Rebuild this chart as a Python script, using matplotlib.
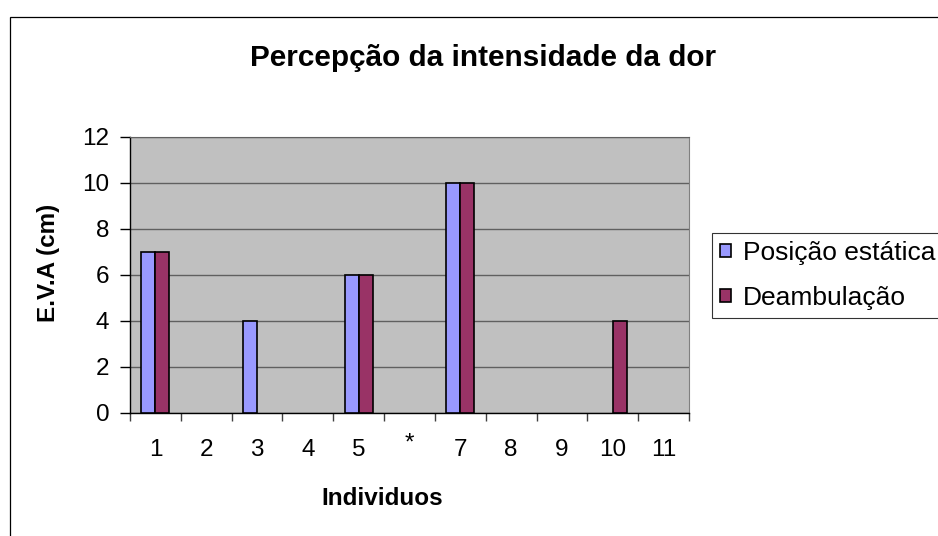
import numpy as np
import matplotlib.pyplot as plt
from matplotlib.patches import Rectangle

# dados
individuos = ['1', '2', '3', '4', '5', '*', '7', '8', '9', '10', '11']
posicao_estatica = [7, np.nan, 4, np.nan, 6, np.nan, 10, np.nan, np.nan, np.nan, np.nan]
deambulacao = [7, np.nan, np.nan, np.nan, 6, np.nan, 10, np.nan, np.nan, 4, np.nan]
yticks = [0, 2, 4, 6, 8, 10, 12]

plt.rcParams['font.family'] = ['Liberation Sans', 'DejaVu Sans']

fig = plt.figure(figsize=(9.38, 5.36), dpi=100)
ax = fig.add_axes([130/938, 1 - 412.7/536, (689 - 130)/938, (412.7 - 136.5)/536])
ax.set_facecolor('#C0C0C0')

x = np.arange(1, len(individuos) + 1)
w = 0.275
ax.bar(x - w/2, posicao_estatica, w, color='#9999FF', edgecolor='black', linewidth=1.2,
       label='Posição estática', zorder=3)
ax.bar(x + w/2, deambulacao, w, color='#993366', edgecolor='black', linewidth=1.2,
       label='Deambulação', zorder=3)

ax.set_xlim(0.5, len(individuos) + 0.5)
ax.set_ylim(0, 12)
ax.set_yticks(yticks)
ax.yaxis.grid(True, color='#606060', linewidth=1.0, zorder=1)
ax.set_axisbelow(True)

# marcas nas fronteiras das categorias, rotulos no centro
ax.set_xticks(np.arange(0.5, len(individuos) + 1, 1))
ax.set_xticklabels([])
ax.set_xticks(x, minor=True)
ax.set_xticklabels(individuos, minor=True)
ax.tick_params(axis='x', which='major', direction='out', length=6, width=1, color='#404040')
ax.tick_params(axis='x', which='minor', length=0, pad=19, labelsize=17.5)
ax.tick_params(axis='y', direction='out', length=7, width=1, pad=8, labelsize=17.5)
ax.xaxis.get_minor_ticks()[5].set_pad(14)

for s in ['left', 'bottom']:
    ax.spines[s].set_color('black')
    ax.spines[s].set_linewidth(1.0)
ax.spines['right'].set_color('#808080')
ax.spines['top'].set_color('#606060')

ax.set_xlabel('Individuos', fontsize=17.5, fontweight='bold', labelpad=19)
ax.set_ylabel('E.V.A (cm)', fontsize=17.5, fontweight='bold', labelpad=16)
ax.xaxis.label.set_x(0.452)
ax.yaxis.label.set_y(0.542)

fig.text(483/938, 1 - 58/536, 'Percepção da intensidade da dor', ha='center', va='center',
         fontsize=21.4, fontweight='bold')

leg = fig.legend(loc='upper left', bbox_to_anchor=(712/938, 1 - 233/536), fontsize=19,
                 frameon=True, fancybox=False, edgecolor='black', handlelength=0.42,
                 handleheight=0.42, handletextpad=0.45, borderpad=0.3, labelspacing=0.8,
                 borderaxespad=0)
leg.get_frame().set_linewidth(0.8)

fig.patches.append(Rectangle((10/938, -0.1), 1.2, 1.1 - 17/536, transform=fig.transFigure,
                             fill=False, edgecolor='black', linewidth=0.9))

fig.savefig('out.png', dpi=100)
